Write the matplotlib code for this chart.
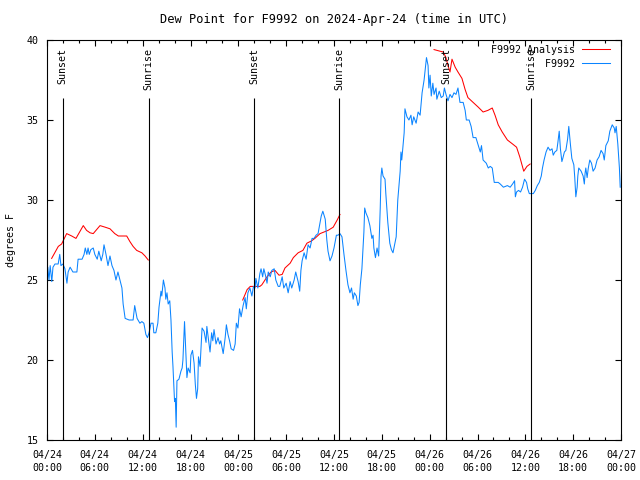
import numpy as np
import matplotlib
matplotlib.use('Agg')
import matplotlib.pyplot as plt
import matplotlib.dates as mdates

plt.rcParams['font.family'] = ['DejaVu Sans Mono']
plt.rcParams['font.size'] = 7.2

start = np.datetime64('2024-04-24T00:00')

# station observations: hours since 04/24 00:00 UTC, dew point (F)
obs_hours = [0.0, 0.1, 0.25, 0.4, 0.6, 0.75, 1.0, 1.4, 1.6, 1.75, 2.0, 2.25, 2.5, 2.65, 2.9,
             3.25, 3.75, 3.9, 4.4, 4.65, 4.8, 5.0, 5.15, 5.3, 5.5, 5.8, 6.0, 6.3, 6.5, 6.8,
             7.0, 7.15, 7.4, 7.65, 7.9, 8.15, 8.4, 8.65, 8.9, 9.15, 9.4, 9.55, 9.8, 10.3,
             10.8, 11.0, 11.3, 11.65, 11.9, 12.15, 12.4, 12.6, 12.8, 13.05, 13.3, 13.4,
             13.65, 13.9, 14.05, 14.3, 14.4, 14.6, 14.8, 14.9, 15.05, 15.2, 15.4, 15.55,
             15.7, 15.8, 16.0, 16.1, 16.2, 16.3, 16.55, 16.8, 16.95, 17.05, 17.25, 17.45,
             17.55, 17.7, 17.95, 18.05, 18.25, 18.45, 18.6, 18.75, 18.9, 19.0, 19.2, 19.45,
             19.7, 19.95, 20.05, 20.25, 20.45, 20.65, 20.8, 20.95, 21.2, 21.45, 21.65, 21.8,
             22.1, 22.35, 22.5, 22.7, 22.9, 23.1, 23.4, 23.6, 23.75, 23.95, 24.15, 24.35,
             24.6, 24.85, 25.0, 25.2, 25.45, 25.7, 25.9, 26.1, 26.2, 26.45, 26.7, 26.85,
             27.05, 27.2, 27.4, 27.6, 27.75, 28.0, 28.2, 28.5, 28.7, 29.0, 29.2, 29.5, 29.7,
             30.0, 30.25, 30.5, 30.7, 31.0, 31.2, 31.5, 31.7, 31.85, 32.0, 32.25, 32.5,
             32.75, 33.0, 33.25, 33.5, 33.75, 34.0, 34.25, 34.4, 34.6, 34.9, 35.1, 35.25,
             35.5, 35.75, 36.0, 36.3, 36.5, 36.75, 37.0, 37.25, 37.5, 37.75, 38.0, 38.2,
             38.4, 38.55, 38.8, 39.0, 39.15, 39.3, 39.5, 39.75, 39.85, 40.0, 40.25, 40.5,
             40.75, 40.9, 41.0, 41.2, 41.4, 41.6, 41.8, 41.9, 42.0, 42.15, 42.4, 42.5, 42.75,
             43.0, 43.2, 43.4, 43.6, 43.8, 44.0, 44.3, 44.4, 44.5, 44.8, 44.9, 45.15, 45.4,
             45.65, 45.8, 46.0, 46.3, 46.55, 46.8, 47.05, 47.3, 47.6, 47.8, 47.9, 48.05,
             48.2, 48.4, 48.55, 48.8, 48.9, 49.2, 49.45, 49.7, 49.85, 50.05, 50.3, 50.55,
             50.8, 51.05, 51.3, 51.55, 51.8, 52.2, 52.45, 52.6, 52.95, 53.2, 53.45, 53.8,
             54.1, 54.35, 54.5, 54.7, 55.1, 55.35, 55.6, 55.85, 56.1, 56.6, 56.85, 57.25,
             57.75, 58.1, 58.4, 58.65, 58.75, 58.9, 59.15, 59.4, 59.65, 59.9, 60.15, 60.3,
             60.5, 61.0, 61.25, 61.5, 61.75, 62.0, 62.15, 62.35, 62.6, 62.85, 63.1, 63.35,
             63.5, 63.7, 63.95, 64.1, 64.25, 64.4, 64.6, 64.7, 64.9, 65.1, 65.3, 65.45,
             65.65, 65.85, 66.1, 66.2, 66.35, 66.5, 66.6, 66.7, 67.0, 67.25, 67.4, 67.5,
             67.6, 67.75, 67.9, 68.1, 68.3, 68.5, 68.75, 69.0, 69.25, 69.5, 69.75, 69.9,
             70.1, 70.4, 70.6, 70.9, 71.15, 71.25, 71.4, 71.6, 71.8, 71.9]
obs_dewpt = [24.0, 25.8, 25.0, 25.9, 24.9, 25.8, 26.0, 26.0, 26.6, 25.9, 26.0, 25.7, 24.8, 25.5, 25.8,
             25.5, 25.5, 26.3, 26.3, 26.6, 27.0, 26.6, 27.0, 26.6, 26.9, 27.0, 26.6, 26.3, 26.8, 26.2,
             26.6, 27.2, 26.6, 25.9, 26.5, 25.9, 25.6, 25.0, 25.5, 25.0, 24.5, 23.5, 22.6, 22.5,
             22.5, 23.4, 22.6, 22.3, 22.4, 22.3, 21.6, 21.4, 21.7, 22.3, 22.3, 21.7,
             21.7, 22.3, 23.3, 24.3, 24.0, 25.0, 24.5, 23.8, 24.2, 23.5, 23.7, 22.5,
             20.5, 19.6, 17.4, 17.6, 15.8, 18.7, 18.8, 19.3, 19.5, 20.0, 22.4, 20.0,
             18.9, 19.5, 19.2, 20.3, 20.6, 19.8, 18.5, 17.6, 18.2, 20.2, 19.6, 22.0,
             21.8, 21.1, 22.1, 21.3, 20.5, 21.7, 21.2, 21.9, 21.0, 21.4, 21.0, 21.2,
             20.4, 21.4, 22.2, 21.6, 21.2, 20.7, 20.6, 21.0, 22.3, 22.0, 23.2, 22.7,
             23.4, 23.9, 23.2, 24.2, 24.5, 24.0, 24.6, 24.5, 25.1, 24.5, 25.4, 25.7,
             25.2, 25.7, 25.3, 24.8, 25.5, 25.2, 25.6, 25.7, 25.0, 24.6, 24.6, 25.2, 24.5,
             24.8, 24.2, 24.9, 24.5, 25.0, 25.5, 24.9, 24.3, 25.6, 26.2, 26.7, 26.3,
             27.2, 27.0, 27.6, 27.6, 27.8, 27.9, 28.6, 29.0, 29.3, 28.8, 27.5, 26.8,
             26.2, 26.5, 27.0, 27.8, 27.8, 27.9, 27.7, 26.6, 25.6, 24.7, 24.2, 24.5,
             23.8, 24.2, 24.0, 23.4, 23.6, 24.7, 25.7, 28.0, 29.5, 29.2, 28.9, 28.4,
             27.6, 27.8, 27.0, 26.4, 27.0, 26.5, 29.5, 31.5, 32.0, 31.5, 31.3, 30.4, 28.6,
             27.3, 26.9, 26.7, 27.2, 27.7, 30.0, 31.8, 33.0, 32.5, 34.2, 35.7, 35.2, 35.0,
             35.3, 34.7, 35.2, 34.8, 35.5, 35.3, 36.7, 37.5, 38.9, 38.4, 37.0, 37.8,
             36.5, 37.3, 36.6, 37.0, 36.3, 36.8, 36.4, 36.5, 37.0, 36.6, 36.2, 36.6,
             36.4, 36.7, 36.6, 37.0, 36.1, 36.1, 35.6, 35.0, 35.0, 34.6, 33.9, 33.9,
             33.4, 33.0, 33.4, 32.5, 32.3, 32.0, 32.1, 32.0, 31.1, 31.1, 31.0, 30.8,
             30.9, 30.8, 31.0, 31.2, 30.2, 30.5, 30.6, 30.5, 30.8, 31.3, 31.1, 30.7,
             30.4, 30.4, 30.6, 30.9, 31.1, 31.5, 32.0, 32.5, 33.0, 33.3, 33.1, 33.2,
             32.8, 33.0, 33.1, 33.6, 34.3, 33.2, 32.4, 32.6, 33.0, 33.1, 33.8, 34.6,
             33.5, 32.6, 32.2, 31.4, 30.2, 30.8, 31.5, 32.0, 31.8, 31.5, 31.0, 31.7,
             32.0, 31.4, 32.0, 32.5, 32.3, 31.8, 32.0, 32.5, 32.7, 33.1, 32.9, 32.5,
             33.4, 33.7, 34.3, 34.7, 34.5, 34.2, 34.6, 33.5, 32.0, 30.8]

# analysis (gaps between segments marked with nan)
ana_hours = [0.59, 1.42, 1.84, 2.47, 3.1, 3.64, 4.56, 4.97, 5.4, 5.8, 6.65, 7.3, 7.9, 8.5,
             8.95, 10.0, 10.4, 10.8, 11.25, 11.9, 12.3, 12.7, 18.0,
             24.55, 24.85, 25.1, 25.5, 26.1, 26.7, 26.95, 27.6, 28.1, 28.6, 29.1, 29.5, 29.85,
             30.5, 30.9, 31.5, 32.1, 32.6, 33.2, 33.6, 34.25, 34.75, 35.25, 35.9, 36.4, 36.75, 42.0,
             48.55, 49.3, 49.7, 50.05, 50.3, 50.55, 50.8, 51.2, 51.55, 52.05, 52.45, 52.8,
             53.45, 54.1, 54.7, 55.3, 55.85, 56.2, 56.6, 57.1, 57.75, 58.4, 58.9, 59.3, 59.8,
             60.2, 60.6]
ana_dewpt = [26.35, 27.1, 27.25, 27.9, 27.75, 27.6, 28.4, 28.1, 27.95, 27.9, 28.4, 28.3, 28.2, 27.9,
             27.75, 27.75, 27.4, 27.1, 26.85, 26.7, 26.5, 26.25, np.nan,
             23.75, 24.1, 24.4, 24.6, 24.6, 24.6, 24.7, 25.2, 25.5, 25.6, 25.3, 25.35, 25.75,
             26.05, 26.4, 26.7, 26.85, 27.3, 27.45, 27.6, 27.9, 28.0, 28.1, 28.3, 28.75, 29.1, np.nan,
             39.4, 39.3, 39.25, 38.9, 38.4, 38.0, 38.8, 38.3, 38.0, 37.6, 36.9, 36.4,
             36.1, 35.8, 35.5, 35.6, 35.75, 35.3, 34.7, 34.25, 33.75, 33.5, 33.3, 32.7, 31.8,
             32.1, 32.25]

sun_hours = [1.95, 12.75, 26.0, 36.68, 50.05, 60.75]
sun_labels = ['Sunset', 'Sunrise', 'Sunset', 'Sunrise', 'Sunset', 'Sunrise']


def to_time(hours):
    return start + (np.array(hours) * 60).astype('timedelta64[m]')


fig = plt.figure(figsize=(6.4, 4.8), dpi=100)
ax = fig.add_axes([47 / 640, 40 / 480, 574 / 640, 400 / 480])

ax.plot(to_time(ana_hours), ana_dewpt, color='#ff0000', lw=0.75, label='F9992 Analysis')
ax.plot(to_time(obs_hours), obs_dewpt, color='#0a84ff', lw=0.75, label='         F9992')

for h, lab in zip(sun_hours, sun_labels):
    t = to_time([h])[0]
    ax.vlines(t, 15, 36.4, color='black', lw=0.8)
    ax.text(t, 39.5, lab, rotation=90, ha='center', va='top')

ax.set_xlim(to_time([0])[0], to_time([72])[0])
ax.set_ylim(15, 40)
ax.set_yticks([15, 20, 25, 30, 35, 40])
ax.xaxis.set_major_locator(mdates.HourLocator(byhour=[0, 6, 12, 18]))
ax.xaxis.set_minor_locator(mdates.HourLocator(byhour=range(0, 24, 2)))
ax.xaxis.set_major_formatter(mdates.DateFormatter('%m/%d\n%H:%M'))

ax.tick_params(which='both', direction='in', top=True, right=True, width=0.8)
ax.tick_params(which='major', length=4.5)
ax.tick_params(axis='x', which='major', pad=7)
ax.tick_params(axis='y', which='major', pad=6)
ax.tick_params(which='minor', length=2.5)
for lbl in ax.get_xticklabels():
    lbl.set_linespacing(1.35)
for s in ax.spines.values():
    s.set_linewidth(0.8)

ax.set_title('Dew Point for F9992 on 2024-Apr-24 (time in UTC)', pad=12)
ax.set_ylabel('degrees F', labelpad=8)

ax.legend(loc='upper right', bbox_to_anchor=(0.981, 0.988), frameon=False,
          markerfirst=False, handlelength=2.8, handletextpad=0.7,
          labelspacing=0.4, borderaxespad=0.0, borderpad=0.0)

fig.savefig('out.png', dpi=100)
